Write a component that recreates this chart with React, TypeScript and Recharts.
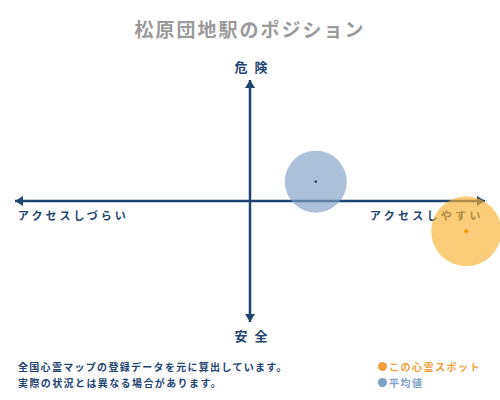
import React from 'react'
import { ScatterChart, Scatter, XAxis, YAxis, ReferenceLine } from 'recharts'

const seriesNames = ['この心霊スポット', '平均値']
const accessValues = [0.92, 0.28]
const dangerValues = [-0.25, 0.16]
const axisLabels = { top: '危 険', bottom: '安 全', left: 'アクセスしづらい', right: 'アクセスしやすい' }
const noteLines = ['全国心霊マップの登録データを元に算出しています。', '実際の状況とは異なる場合があります。']
const titleText = '松原団地駅のポジション'

const spotData = [{ x: accessValues[0], y: dangerValues[0] }]
const avgData = [{ x: accessValues[1], y: dangerValues[1] }]

const NAVY = '#1f4470'
const FONT = '"Noto Sans CJK JP", sans-serif'

const ArrowLine = (props: any) => {
    const { x1, y1, x2, y2 } = props
    const horiz = Math.abs(y1 - y2) < 1
    const a = 8
    const w = 5
    let heads
    if (horiz) {
        const l = Math.min(x1, x2)
        const r = Math.max(x1, x2)
        heads = (
            <>
                <polygon points={`${l},${y1} ${l + a},${y1 - w} ${l + a},${y1 + w}`} fill={NAVY} />
                <polygon points={`${r},${y1} ${r - a},${y1 - w} ${r - a},${y1 + w}`} fill={NAVY} />
            </>
        )
    } else {
        const t = Math.min(y1, y2)
        const b = Math.max(y1, y2)
        heads = (
            <>
                <polygon points={`${x1},${t} ${x1 - w},${t + a} ${x1 + w},${t + a}`} fill={NAVY} />
                <polygon points={`${x1},${b} ${x1 - w},${b - a} ${x1 + w},${b - a}`} fill={NAVY} />
            </>
        )
    }
    return (
        <g>
            <line x1={x1} y1={y1} x2={x2} y2={y2} stroke={NAVY} strokeWidth={2.5} />
            {heads}
        </g>
    )
}

const SpotShape = (props: any) => (
    <g>
        <circle cx={props.cx} cy={props.cy} r={35} fill="#f9b233" fillOpacity={0.65} />
        <circle cx={props.cx} cy={props.cy} r={2} fill="#f59a00" />
    </g>
)

const AvgShape = (props: any) => (
    <g>
        <circle cx={props.cx} cy={props.cy} r={31} fill="#7f9fc3" fillOpacity={0.65} />
        <circle cx={props.cx} cy={props.cy} r={1.2} fill="#1d2f45" />
    </g>
)

const abs = (x: number, y: number, extra: React.CSSProperties = {}): React.CSSProperties => ({
    position: 'absolute',
    left: x,
    top: y,
    whiteSpace: 'nowrap',
    fontFamily: FONT,
    fontWeight: 700,
    lineHeight: 1,
    ...extra,
})

const App = () => {
    return (
        <div style={{ position: 'absolute', left: 0, top: 0, width: 500, height: 400, background: '#fff', overflow: 'hidden' }}>
            <div style={abs(0, 19, { width: 500, textAlign: 'center', fontSize: 19, color: '#9a9a9a', letterSpacing: 2 })}>{titleText}</div>
            <div style={abs(2, 60, { width: 500, textAlign: 'center', fontSize: 13, color: NAVY, letterSpacing: 2 })}>{axisLabels.top}</div>
            <div style={abs(2, 329, { width: 500, textAlign: 'center', fontSize: 13, color: NAVY, letterSpacing: 2 })}>{axisLabels.bottom}</div>
            <div style={abs(18, 210, { fontSize: 11, color: NAVY, letterSpacing: 3 })}>{axisLabels.left}</div>
            <div style={abs(370, 210, { fontSize: 11, color: NAVY, letterSpacing: 3.3 })}>{axisLabels.right}</div>
            <div style={abs(18, 362, { fontSize: 10, color: NAVY, letterSpacing: 1.3 })}>{noteLines[0]}</div>
            <div style={abs(18, 378, { fontSize: 10, color: NAVY, letterSpacing: 1.4 })}>{noteLines[1]}</div>
            <div style={abs(378, 362, { fontSize: 10, color: '#f0a040', letterSpacing: 1.5 })}>
                <span style={{ display: 'inline-block', width: 9, height: 9, borderRadius: 5, background: '#f0a040', marginRight: 2 }} />
                {seriesNames[0]}
            </div>
            <div style={abs(378, 378, { fontSize: 10, color: '#7ba0c8', letterSpacing: 1.5 })}>
                <span style={{ display: 'inline-block', width: 9, height: 9, borderRadius: 5, background: '#7ba0c8', marginRight: 2 }} />
                {seriesNames[1]}
            </div>
            <div style={{ position: 'absolute', left: 0, top: 0 }}>
                <ScatterChart width={500} height={400} margin={{ top: 80, right: 15, bottom: 78, left: 15 }}>
                    <XAxis type="number" dataKey="x" domain={[-1, 1]} hide />
                    <YAxis type="number" dataKey="y" domain={[-1, 1]} hide />
                    <ReferenceLine y={0} shape={ArrowLine} />
                    <ReferenceLine x={0} shape={ArrowLine} />
                    <Scatter name={seriesNames[1]} data={avgData} shape={AvgShape} isAnimationActive={false} />
                    <Scatter name={seriesNames[0]} data={spotData} shape={SpotShape} isAnimationActive={false} />
                </ScatterChart>
            </div>
        </div>
    )
}

export default App
